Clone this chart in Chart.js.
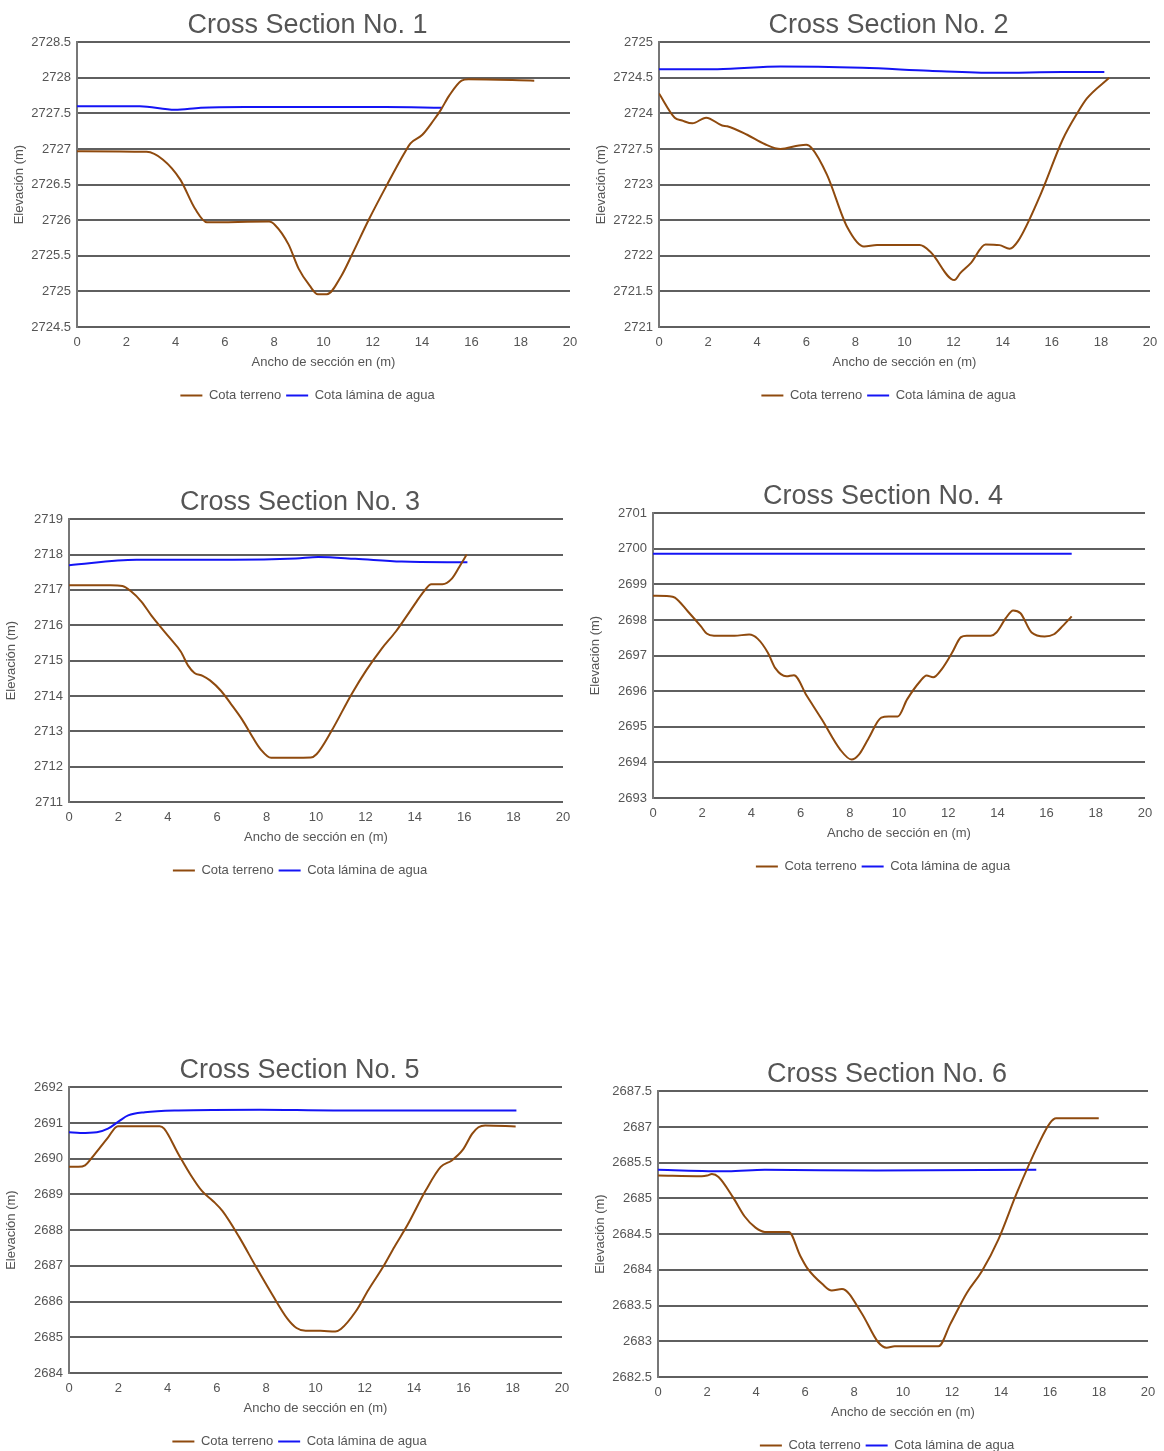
<!DOCTYPE html>
<html>
<head>
<meta charset="utf-8">
<script src="https://cdn.jsdelivr.net/npm/chart.js@4.4.1/dist/chart.umd.min.js"></script>
<style>
  html, body { margin: 0; padding: 0; background: #fff; }
  body { width: 1164px; height: 1451px; position: relative; overflow: hidden; }
  canvas { position: absolute; }
</style>
</head>
<body>
<canvas id="cs1"></canvas>
<canvas id="cs2"></canvas>
<canvas id="cs3"></canvas>
<canvas id="cs4"></canvas>
<canvas id="cs5"></canvas>
<canvas id="cs6"></canvas>
<script>
const cs1TerrenoX = [0, 2.82, 3.49, 4.19, 4.79, 5.27, 7.79, 8.04, 8.58, 8.99, 9.44, 9.77, 10.14, 10.71, 11.16, 11.84, 12.58, 13.26, 13.53, 14.01, 14.46, 14.76, 15.1, 15.6, 15.88, 18.55];
const cs1TerrenoY = [2726.97, 2726.96, 2726.85, 2726.57, 2726.16, 2725.97, 2725.98, 2725.93, 2725.66, 2725.32, 2725.08, 2724.96, 2724.96, 2725.21, 2725.52, 2726.01, 2726.5, 2726.93, 2727.08, 2727.2, 2727.4, 2727.55, 2727.75, 2727.96, 2727.98, 2727.96];
const cs1AguaX = [0, 2.55, 3.97, 5.02, 6.82, 12.51, 14.8];
const cs1AguaY = [2727.6, 2727.6, 2727.55, 2727.58, 2727.59, 2727.59, 2727.58];
const cs1Ticks = ['2724.5', '2725', '2725.5', '2726', '2726.5', '2727', '2727.5', '2728', '2728.5'];

const cs2TerrenoX = [0, 0.64, 0.94, 1.36, 1.92, 2.57, 2.78, 3.59, 4.3, 4.95, 5.7, 6.0, 6.23, 6.84, 7.67, 8.35, 8.88, 10.62, 11.07, 12.03, 12.28, 12.71, 13.3, 13.87, 14.28, 14.63, 15.54, 16.44, 17.05, 17.43, 18.34];
const cs2TerrenoY = [2724.28, 2723.94, 2723.9, 2723.86, 2723.94, 2723.83, 2723.82, 2723.7, 2723.57, 2723.5, 2723.55, 2723.56, 2723.51, 2723.14, 2722.4, 2722.13, 2722.15, 2722.15, 2722.05, 2721.66, 2721.76, 2721.9, 2722.16, 2722.15, 2722.1, 2722.21, 2722.86, 2723.63, 2724.01, 2724.21, 2724.5];
const cs2AguaX = [0, 2.38, 4.95, 8.28, 11.0, 13.72, 16.44, 18.14];
const cs2AguaY = [2724.62, 2724.62, 2724.66, 2724.64, 2724.6, 2724.57, 2724.58, 2724.58];
const cs2Ticks = ['2721', '2721.5', '2722', '2722.5', '2723', '2727.5', '2724', '2724.5', '2725'];

const cs3TerrenoX = [0, 1.68, 2.16, 2.51, 2.93, 3.33, 4.08, 4.53, 4.83, 5.08, 5.41, 5.71, 6.16, 6.56, 7.01, 7.43, 7.76, 8.18, 9.79, 10.02, 10.62, 11.44, 12.04, 12.64, 13.24, 13.69, 14.07, 14.37, 14.67, 15.12, 15.5, 15.8, 16.1];
const cs3TerrenoY = [2717.13, 2717.13, 2717.11, 2716.96, 2716.67, 2716.28, 2715.64, 2715.25, 2714.85, 2714.65, 2714.57, 2714.44, 2714.14, 2713.77, 2713.33, 2712.84, 2712.49, 2712.25, 2712.26, 2712.35, 2713.0, 2714.05, 2714.73, 2715.32, 2715.83, 2716.28, 2716.67, 2716.96, 2717.16, 2717.16, 2717.32, 2717.65, 2718.0];
const cs3AguaX = [0, 2.73, 6.64, 9.19, 10.09, 11.59, 13.47, 16.13];
const cs3AguaY = [2717.7, 2717.85, 2717.85, 2717.89, 2717.93, 2717.88, 2717.8, 2717.78];
const cs3Ticks = ['2711', '2712', '2713', '2714', '2715', '2716', '2717', '2718', '2719'];

const cs4TerrenoX = [0, 0.66, 0.89, 1.42, 1.95, 2.18, 2.48, 3.31, 3.91, 4.26, 4.67, 4.97, 5.42, 5.73, 6.25, 6.86, 7.61, 8.07, 8.37, 8.75, 9.28, 9.58, 9.95, 10.33, 10.86, 11.12, 11.39, 11.77, 12.15, 12.52, 12.75, 13.73, 13.96, 14.34, 14.64, 14.94, 15.39, 15.92, 16.3, 16.68, 17.02];
const cs4TerrenoY = [2698.68, 2698.67, 2698.63, 2698.24, 2697.82, 2697.62, 2697.56, 2697.56, 2697.59, 2697.47, 2697.08, 2696.65, 2696.42, 2696.45, 2695.87, 2695.21, 2694.36, 2694.08, 2694.22, 2694.66, 2695.26, 2695.29, 2695.29, 2695.77, 2696.28, 2696.44, 2696.39, 2696.65, 2697.07, 2697.52, 2697.56, 2697.56, 2697.65, 2698.05, 2698.27, 2698.19, 2697.65, 2697.54, 2697.6, 2697.85, 2698.1];
const cs4AguaX = [0, 17.02];
const cs4AguaY = [2699.86, 2699.86];
const cs4Ticks = ['2693', '2694', '2695', '2696', '2697', '2698', '2699', '2700', '2701'];

const cs5TerrenoX = [0, 0.38, 0.65, 0.9, 1.28, 1.58, 1.98, 3.68, 3.86, 4.43, 4.95, 5.4, 5.85, 6.23, 6.9, 7.58, 8.25, 8.85, 9.23, 9.6, 10.2, 10.8, 11.03, 11.63, 12.15, 12.75, 13.2, 13.73, 14.48, 15.08, 15.53, 15.98, 16.36, 16.61, 16.88, 18.12];
const cs5TerrenoY = [2689.77, 2689.77, 2689.81, 2690.0, 2690.33, 2690.59, 2690.91, 2690.91, 2690.84, 2690.14, 2689.53, 2689.09, 2688.81, 2688.53, 2687.81, 2686.98, 2686.19, 2685.53, 2685.26, 2685.18, 2685.18, 2685.16, 2685.23, 2685.72, 2686.33, 2686.98, 2687.53, 2688.14, 2689.12, 2689.77, 2689.95, 2690.25, 2690.7, 2690.88, 2690.93, 2690.9];
const cs5AguaX = [0, 0.45, 1.13, 1.58, 2.03, 2.4, 3.08, 4.43, 7.73, 10.73, 18.15];
const cs5AguaY = [2690.74, 2690.72, 2690.74, 2690.84, 2691.05, 2691.21, 2691.3, 2691.35, 2691.37, 2691.35, 2691.35];
const cs5Ticks = ['2684', '2685', '2686', '2687', '2688', '2689', '2690', '2691', '2692'];

const cs6TerrenoX = [0, 1.79, 2.01, 2.2, 2.47, 3.07, 3.53, 3.98, 4.36, 5.34, 5.8, 6.1, 6.71, 7.09, 7.51, 8.3, 8.98, 9.33, 9.66, 11.45, 11.93, 12.61, 13.22, 13.9, 14.65, 15.56, 15.99, 16.25, 17.99];
const cs6TerrenoY = [2685.32, 2685.31, 2685.32, 2685.34, 2685.3, 2685.01, 2684.75, 2684.59, 2684.53, 2684.53, 2684.2, 2684.02, 2683.8, 2683.71, 2683.73, 2683.4, 2682.99, 2682.91, 2682.93, 2682.93, 2683.24, 2683.68, 2683.98, 2684.43, 2685.08, 2685.78, 2686.05, 2686.12, 2686.12];
const cs6AguaX = [0, 2.85, 4.36, 8.9, 15.44];
const cs6AguaY = [2685.4, 2685.38, 2685.4, 2685.39, 2685.4];
const cs6Ticks = ['2682.5', '2683', '2683.5', '2684', '2684.5', '2685', '2685.5', '2687', '2687.5'];

const colTerreno = '#8f4a0e';
const colAgua = '#1414f5';

Chart.defaults.font.family = "'Liberation Sans', Arial, sans-serif";
Chart.defaults.color = '#555';

const pts = (xs, ys) => xs.map((x, i) => ({ x, y: ys[i] }));

// caja: [izq canvas, arriba canvas, ancho plot, alto plot]
function seccion(id, num, box, yMin, yMax, yStep, ticks, tX, tY, aX, aY) {
  const [left, top, plotW, plotH] = box;
  const cv = document.getElementById(id);
  const W = 66 + plotW + 34;
  const H = Math.round(37.2 + plotH + 57 + 28);
  cv.width = W; cv.height = H;
  cv.style.left = left + 'px';
  cv.style.top = top + 'px';

  new Chart(cv.getContext('2d'), {
    type: 'line',
    data: {
      datasets: [
        { label: 'Cota terreno', data: pts(tX, tY), borderColor: colTerreno, backgroundColor: colTerreno,
          borderWidth: 2, pointRadius: 0, cubicInterpolationMode: 'monotone' },
        { label: 'Cota lámina de agua', data: pts(aX, aY), borderColor: colAgua, backgroundColor: colAgua,
          borderWidth: 2, pointRadius: 0, cubicInterpolationMode: 'monotone' },
      ],
    },
    options: {
      responsive: false,
      animation: false,
      layout: { padding: 0 },
      plugins: {
        title: {
          display: true, text: 'Cross Section No. ' + num,
          font: { size: 27, weight: 'normal' }, color: '#555',
          padding: { top: 4.8, bottom: 0 },
        },
        legend: {
          position: 'bottom',
          labels: {
            boxWidth: 22, boxHeight: 2, padding: 5, font: { size: 13 }, color: '#555',
            generateLabels: (c) => Chart.defaults.plugins.legend.labels.generateLabels(c)
              .map((l) => ({ ...l, lineWidth: 0 })),
          },
        },
        tooltip: { enabled: false },
      },
      scales: {
        x: {
          type: 'linear', min: 0, max: 20,
          grid: { display: false, drawTicks: false },
          border: { display: false },
          ticks: { stepSize: 2, padding: 8, font: { size: 13 }, color: '#555', maxRotation: 0 },
          title: { display: true, text: 'Ancho de sección en (m)', font: { size: 13 }, color: '#555',
                   padding: { top: 0, bottom: 14 } },
          afterFit: (s) => { s.height = 57; },
        },
        y: {
          min: yMin, max: yMax,
          grid: { color: '#5f5f5f', lineWidth: 2, drawTicks: false },
          border: { display: true, color: '#777', width: 2 },
          ticks: { stepSize: yStep, padding: 6, font: { size: 13 }, color: '#555',
                   callback: (v, i) => ticks[i] },
          title: { display: true, text: 'Elevación (m)', font: { size: 13 }, color: '#555',
                   padding: { top: 1, bottom: 0 } },
          afterFit: (s) => { s.width = 66; },
        },
        // margen derecho vacío
        margen: {
          position: 'right',
          grid: { display: false, drawTicks: false },
          border: { display: false },
          ticks: { display: false },
          afterFit: (s) => { s.width = 34; },
        },
      },
    },
  });
}

seccion('cs1', 1, [11, 5, 493, 285], 2724.5, 2728.5, 0.5, cs1Ticks, cs1TerrenoX, cs1TerrenoY, cs1AguaX, cs1AguaY);
seccion('cs2', 2, [593, 5, 491, 285], 2721, 2725, 0.5, cs2Ticks, cs2TerrenoX, cs2TerrenoY, cs2AguaX, cs2AguaY);
seccion('cs3', 3, [3, 482, 494, 283], 2711, 2719, 1, cs3Ticks, cs3TerrenoX, cs3TerrenoY, cs3AguaX, cs3AguaY);
seccion('cs4', 4, [587, 476, 492, 285], 2693, 2701, 1, cs4Ticks, cs4TerrenoX, cs4TerrenoY, cs4AguaX, cs4AguaY);
seccion('cs5', 5, [3, 1050, 493, 286], 2684, 2692, 1, cs5Ticks, cs5TerrenoX, cs5TerrenoY, cs5AguaX, cs5AguaY);
seccion('cs6', 6, [592, 1054, 490, 286], 2682.5, 2686.5, 0.5, cs6Ticks, cs6TerrenoX, cs6TerrenoY, cs6AguaX, cs6AguaY);
</script>
</body>
</html>
